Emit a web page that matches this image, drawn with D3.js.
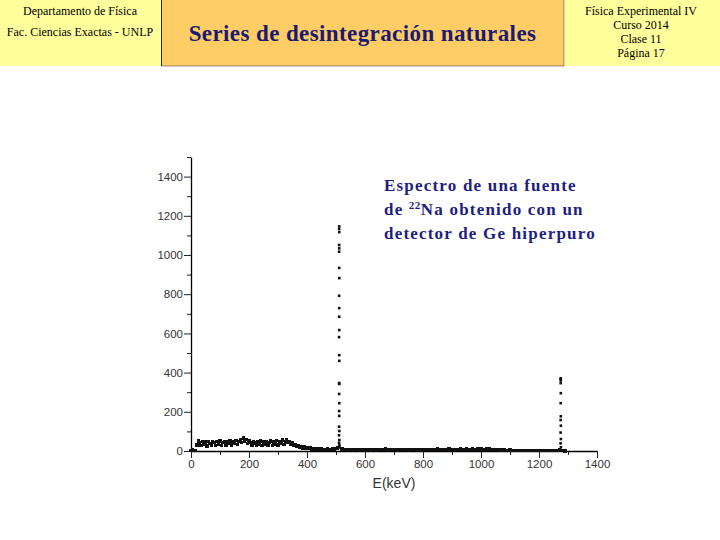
<!DOCTYPE html>
<html>
<head>
<meta charset="utf-8">
<script src="https://cdn.jsdelivr.net/npm/d3@7"></script>
<style>
    body { margin: 0; background: #fff; }
    svg { display: block; }
</style>
</head>
<body>
<svg id="slide" width="720" height="540"></svg>
<script>
/****** Data *******/
// header texts
var leftLines = ["Departamento de Física", "Fac. Ciencias Exactas - UNLP"];
var rightLines = ["Física Experimental IV", "Curso 2014", "Clase 11", "Página 17"];
var title = "Series de desintegración naturales";

// axis ticks
var xTicks = [0, 200, 400, 600, 800, 1000, 1200, 1400];
var xMinorTicks = [100, 300, 500, 700, 900, 1100, 1300];
var yTicks = [0, 200, 400, 600, 800, 1000, 1200, 1400];
var yMinorTicks = [100, 300, 500, 700, 900, 1100, 1300, 1500];

// continuum 0..505 keV, one value every 5 keV
var lowStart = 0, lowStep = 5;
var lowCounts = [3, 6, 4, 2,
    30, 52, 44, 28, 50, 36, 46, 26, 48, 38,
    30, 50, 42, 27, 47, 35, 51, 29, 43, 49,
    31, 45, 37, 52, 30, 46, 40, 54, 33, 49,
    58, 42, 66, 50, 60, 38, 55, 44, 30, 50,
    40, 28, 48, 36, 51, 27, 45, 33, 49, 30,
    43, 52, 29, 46, 36, 53, 31, 48, 40, 56,
    34, 50, 58, 42, 48, 36, 40, 30, 32, 24,
    26, 19, 22, 16, 20, 14, 17, 12, 15, 11,
    13, 10, 12, 9, 11, 8, 10, 7, 9, 8,
    10, 7, 9, 8, 10, 9, 12, 15];

// continuum 520..1290 keV, one value every 10 keV
var highStart = 520, highStep = 10;
var highCounts = [10, 7, 6, 8, 5, 7, 6, 8, 5, 7,
    6, 8, 6, 9, 7, 10, 6, 8, 7, 6,
    8, 7, 9, 6, 8, 7, 9, 8, 6, 8,
    7, 9, 8, 10, 7, 9, 8, 10, 7, 9,
    8, 10, 9, 11, 8, 10, 9, 11, 10, 9,
    11, 10, 9, 8, 6, 5, 5, 4, 5, 4,
    4, 3, 4, 3, 4, 3, 3, 4, 3, 3,
    2, 3, 2, 3, 4, 6, 3, 1];

// annihilation peak (511 keV)
var peak511E = [511.0, 510.8, 511.2, 510.9, 511.1, 510.7, 511.0, 511.3, 510.8, 511.1,
    510.9, 511.2, 510.6, 511.0, 511.3, 510.7, 511.1, 510.9, 511.2, 510.8,
    511.0, 510.6, 511.4, 510.5, 511.5, 510.4, 511.6, 510.3, 511.7];
var peak511Counts = [1146, 1133, 1117, 1051, 1034, 1017, 934, 882, 792, 729,
    685, 617, 581, 489, 460, 347, 342, 291, 244, 204,
    179, 124, 102, 80, 56, 42, 30, 22, 18];

// 1275 keV peak
var peak1275E = [1275.0, 1274.9, 1275.1, 1274.8, 1275.2, 1274.7, 1275.3, 1274.6, 1275.4, 1274.5,
    1275.5, 1274.4, 1275.6];
var peak1275Counts = [371, 366, 360, 346, 295, 244, 177, 158, 129, 94, 61, 39, 19];

var xLabel = "E(keV)";
var noteLines = ["Espectro de una fuente", "de |22|Na obtenido con un", "detector de Ge hiperpuro"];

/** Build the point lists from the arrays **/
function buildContinuum() {
    var pts = [];
    lowCounts.forEach(function (c, i) {
        pts.push({e: lowStart + i * lowStep, c: c});
    });
    highCounts.forEach(function (c, i) {
        pts.push({e: highStart + i * highStep, c: c});
    });
    return pts;
}

function buildPeaks() {
    var pts = [];
    peak511E.forEach(function (e, i) {
        pts.push({e: e, c: peak511Counts[i]});
    });
    peak1275E.forEach(function (e, i) {
        pts.push({e: e, c: peak1275Counts[i]});
    });
    return pts;
}

/** Slide header **/
function drawHeader(svg) {
    svg.append("rect").attr("x", 0).attr("y", 0).attr("width", 161).attr("height", 66)
        .attr("fill", "#ffff9c");
    svg.append("rect").attr("x", 565).attr("y", 0).attr("width", 155).attr("height", 66)
        .attr("fill", "#ffff9c");
    svg.append("rect").attr("x", 161.5).attr("y", -1).attr("width", 402.5).attr("height", 67)
        .attr("fill", "#ffcc66")
        .attr("stroke", "#333")
        .attr("stroke-dasharray", "1,1");
    svg.append("line").attr("x1", 161.5).attr("x2", 161.5).attr("y1", 0).attr("y2", 66)
        .attr("stroke", "#222");

    svg.selectAll(".left-line")
        .data(leftLines)
        .enter().append("text")
        .attr("x", 80)
        .attr("y", function (d, i) { return 15 + i * 21; })
        .attr("text-anchor", "middle")
        .style("font", "12px 'Liberation Serif', 'Times New Roman', serif")
        .text(function (d) { return d; });

    svg.selectAll(".right-line")
        .data(rightLines)
        .enter().append("text")
        .attr("x", 641)
        .attr("y", function (d, i) { return 15 + i * 14; })
        .attr("text-anchor", "middle")
        .style("font", "12px 'Liberation Serif', 'Times New Roman', serif")
        .text(function (d) { return d; });

    svg.append("text")
        .attr("x", 362.5)
        .attr("y", 41)
        .attr("text-anchor", "middle")
        .attr("fill", "#1b1b70")
        .style("font", "bold 23px 'Liberation Serif', 'Times New Roman', serif")
        .style("letter-spacing", "0.4px")
        .text(title);
}

/** Spectrum chart **/
function drawChart(svg, continuum, peaks) {
    var x = d3.scaleLinear().domain([0, 1400]).range([191, 597]);
    var y = d3.scaleLinear().domain([0, 1500]).range([451, 157]);
    var axisFont = "11.5px 'Liberation Sans', Arial, sans-serif";
    var fmt = d3.format("d");

    // minor ticks
    svg.append("g")
        .attr("transform", "translate(0,451)")
        .call(d3.axisBottom(x).tickValues(xMinorTicks).tickSize(4).tickSizeOuter(0).tickFormat(""))
        .call(function (g) { g.select(".domain").remove(); });
    svg.append("g")
        .attr("transform", "translate(191,0)")
        .call(d3.axisLeft(y).tickValues(yMinorTicks).tickSize(4).tickSizeOuter(0).tickFormat(""))
        .call(function (g) { g.select(".domain").remove(); });

    // major axes
    svg.append("g")
        .attr("transform", "translate(0,451)")
        .call(d3.axisBottom(x).tickValues(xTicks).tickSize(7).tickSizeOuter(0).tickPadding(2).tickFormat(fmt));
    svg.append("g")
        .attr("transform", "translate(191,0)")
        .call(d3.axisLeft(y).tickValues(yTicks).tickSize(7).tickSizeOuter(0).tickPadding(1).tickFormat(fmt));

    svg.selectAll(".tick line").attr("stroke", "#222");
    svg.selectAll(".domain").attr("stroke", "#000").attr("stroke-width", 1.3);
    svg.selectAll(".tick text")
        .attr("fill", "#333")
        .style("font", axisFont);

    svg.append("text")
        .attr("x", 394)
        .attr("y", 488)
        .attr("text-anchor", "middle")
        .attr("fill", "#333")
        .style("font", "14px 'Liberation Sans', Arial, sans-serif")
        .text(xLabel);

    // dense continuum: bigger squares so the band looks solid
    svg.append("g")
        .attr("shape-rendering", "crispEdges")
        .selectAll("rect")
        .data(continuum)
        .enter().append("rect")
        .attr("x", function (d) { return x(d.e) - 1.7; })
        .attr("y", function (d) { return y(d.c) - 1.7; })
        .attr("width", 3.4)
        .attr("height", 3.4)
        .attr("fill", "#111");

    svg.append("g")
        .selectAll("rect")
        .data(peaks)
        .enter().append("rect")
        .attr("x", function (d) { return x(d.e) - 1.3; })
        .attr("y", function (d) { return y(d.c) - 1.3; })
        .attr("width", 2.6)
        .attr("height", 2.6)
        .attr("fill", "#111");
}

/** Annotation text **/
function drawNote(svg) {
    var t = svg.append("g")
        .attr("fill", "#1e1e82")
        .style("font", "bold 17px 'Liberation Serif', 'Times New Roman', serif")
        .style("letter-spacing", "1.2px");
    noteLines.forEach(function (line, i) {
        var txt = t.append("text").attr("x", 384).attr("y", 191 + i * 24);
        line.split("|").forEach(function (part, j) {
            var span = txt.append("tspan").text(part);
            if (j === 1) {
                span.attr("dy", -6).style("font-size", "11px").style("letter-spacing", "0.5px");
            } else if (j === 2) {
                span.attr("dy", 6);
            }
        });
    });
}

var svg = d3.select("#slide");
svg.append("rect").attr("width", 720).attr("height", 540).attr("fill", "#fff");
drawHeader(svg);
drawChart(svg, buildContinuum(), buildPeaks());
drawNote(svg);
</script>
</body>
</html>
